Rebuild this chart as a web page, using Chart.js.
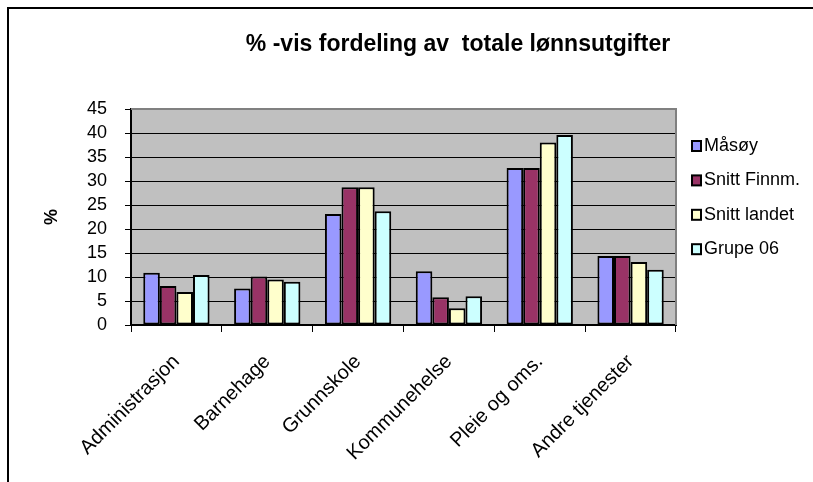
<!DOCTYPE html>
<html>
<head>
<meta charset="utf-8">
<script src="https://cdn.jsdelivr.net/npm/chart.js@4/dist/chart.umd.min.js"></script>
<style>
    html, body { margin: 0; padding: 0; background: #fff; }
    #wrap { width: 813px; height: 482px; }
</style>
</head>
<body>
<div id="wrap"><canvas id="lonnChart" width="813" height="482"></canvas></div>
<script>
// Categories and series
const categories = ['Administrasjon', 'Barnehage', 'Grunnskole', 'Kommunehelse', 'Pleie og oms.', 'Andre tjenester'];
const masoy = [10.9, 7.6, 23.1, 11.2, 32.7, 14.4];
const snittFinnm = [8.1, 10.1, 28.7, 5.8, 32.7, 14.4];
const snittLandet = [6.9, 9.5, 28.7, 3.5, 38.0, 13.1];
const grupe06 = [10.4, 9.0, 23.7, 6.0, 39.6, 11.5];
const seriesNames = ['Måsøy', 'Snitt Finnm.', 'Snitt landet', 'Grupe 06'];
const seriesColors = ['#9999FF', '#993366', '#FFFFCC', '#CCFFFF'];
const yTicks = [0, 5, 10, 15, 20, 25, 30, 35, 40, 45];

const FONT = '"Liberation Sans", Arial, sans-serif';

// Grey plot background, outer frame, title and legend
const decorPlugin = {
    id: 'decor',
    beforeDatasetsDraw(chart) {
        const { ctx, chartArea: a } = chart;
        ctx.save();
        ctx.strokeStyle = '#808080';
        ctx.lineWidth = 2;
        ctx.beginPath();
        ctx.moveTo(a.left, a.top);
        ctx.lineTo(a.right, a.top);
        ctx.lineTo(a.right, a.bottom);
        ctx.stroke();
        ctx.restore();
    },
    beforeDraw(chart) {
        const { ctx, chartArea: a } = chart;
        ctx.save();
        ctx.fillStyle = '#fff';
        ctx.fillRect(0, 0, chart.width, chart.height);
        ctx.fillStyle = '#C0C0C0';
        ctx.fillRect(a.left, a.top, a.right - a.left, a.bottom - a.top);
        // frame of the chart object
        ctx.strokeStyle = '#000';
        ctx.lineWidth = 2;
        ctx.beginPath();
        ctx.moveTo(8, chart.height);
        ctx.lineTo(8, 8);
        ctx.lineTo(chart.width, 8);
        ctx.stroke();
        ctx.restore();
    },
    afterDraw(chart) {
        const { ctx } = chart;
        ctx.save();
        ctx.fillStyle = '#000';
        ctx.font = 'bold 23px ' + FONT;
        ctx.textAlign = 'center';
        ctx.textBaseline = 'middle';
        ctx.fillText('% -vis fordeling av  totale lønnsutgifter', 458, 45);

        // legend
        ctx.font = '18px ' + FONT;
        ctx.textAlign = 'left';
        chart.data.datasets.forEach((ds, i) => {
            const y = 146 + i * 34.4;
            ctx.fillStyle = ds.backgroundColor;
            ctx.fillRect(692, y - 5, 9, 10);
            ctx.strokeStyle = '#000';
            ctx.lineWidth = 2;
            ctx.strokeRect(692, y - 5, 9, 10);
            ctx.fillStyle = '#000';
            ctx.fillText(ds.label, 704, y);
        });
        ctx.restore();
    }
};

const datasets = [masoy, snittFinnm, snittLandet, grupe06].map((values, i) => ({
    label: seriesNames[i],
    data: values,
    backgroundColor: seriesColors[i],
    borderColor: '#000',
    borderWidth: 2,
    borderSkipped: false,
    barPercentage: 1,
    categoryPercentage: 0.73
}));

new Chart(document.getElementById('lonnChart'), {
    type: 'bar',
    data: { labels: categories, datasets },
    options: {
        responsive: false,
        animation: false,
        devicePixelRatio: 1,
        layout: { padding: { left: 20, top: 109, right: 137, bottom: 0 } },
        plugins: {
            legend: { display: false },
            title: { display: false },
            tooltip: { enabled: false }
        },
        scales: {
            x: {
                afterFit: s => { s.height = 157; },
                grid: {
                    offset: true,
                    drawOnChartArea: false,
                    drawTicks: true,
                    tickLength: 7,
                    color: '#000',
                    lineWidth: 1
                },
                border: { color: '#000', width: 2 },
                ticks: {
                    autoSkip: false,
                    maxRotation: 45,
                    minRotation: 45,
                    padding: 18,
                    color: '#000',
                    font: { family: FONT, size: 20 }
                }
            },
            y: {
                min: 0,
                max: 45,
                afterFit: s => { s.width = 111; },
                afterBuildTicks: s => { s.ticks = yTicks.map(v => ({ value: v })); },
                grid: {
                    color: '#000',
                    lineWidth: 1,
                    tickLength: 6
                },
                border: { color: '#000', width: 2 },
                ticks: {
                    autoSkip: false,
                    padding: 18,
                    color: '#000',
                    font: { family: FONT, size: 18 }
                },
                title: {
                    display: true,
                    text: '%',
                    color: '#000',
                    font: { family: FONT, size: 18, weight: 'bold' },
                    padding: { top: 21, bottom: 4 }
                }
            }
        }
    },
    plugins: [decorPlugin]
});
</script>
</body>
</html>
